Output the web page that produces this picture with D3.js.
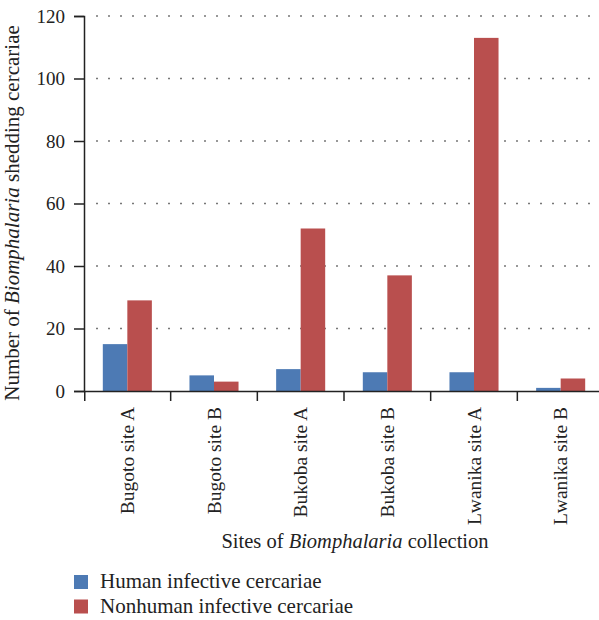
<!DOCTYPE html>
<html>
<head>
<meta charset="utf-8">
<script src="https://cdn.jsdelivr.net/npm/d3@7"></script>
<style>
  body { margin: 0; background: #fff; }
  svg { font-family: "Liberation Serif", "DejaVu Serif", serif; font-kerning: normal; }
</style>
</head>
<body>
<svg id="chart" width="599" height="620"></svg>
<script>
//chart data
var sites = ["Bugoto site A", "Bugoto site B", "Bukoba site A", "Bukoba site B", "Lwanika site A", "Lwanika site B"];
var seriesNames = ["Human infective cercariae", "Nonhuman infective cercariae"];
var human = [15, 5, 7, 6, 6, 1];
var nonhuman = [29, 3, 52, 37, 113, 4];
var yTicks = [0, 20, 40, 60, 80, 100, 120];
var colors = ["#4d7ab4", "#b94f4e"];

var margin = {top: 16, right: -5, bottom: 229, left: 84},
    width = 599 - margin.left - margin.right,
    height = 620 - margin.top - margin.bottom;

var svg = d3.select("#chart");
var chart = svg.append("g")
    .attr("transform", "translate(" + margin.left + "," + margin.top + ")");

var x = d3.scaleBand().domain(sites).range([0, width]).paddingInner(0.434).paddingOuter(0.217);
var x0 = d3.scaleBand().domain(sites).range([0, width]);
var x1 = d3.scaleBand().domain([0, 1]).range([0, x.bandwidth()]);
var y = d3.scaleLinear().domain([0, 120]).range([height, 0]);

//dotted grid
chart.append("g").selectAll("line")
    .data(yTicks.filter(function(d) { return d > 0; }))
  .enter().append("line")
    .attr("x1", 12).attr("x2", width)
    .attr("y1", function(d) { return y(d); })
    .attr("y2", function(d) { return y(d); })
    .attr("stroke", "#777")
    .attr("stroke-width", 1.6)
    .attr("stroke-dasharray", "2,10");

//bars
var rows = sites.map(function(s, i) { return {site: s, vals: [human[i], nonhuman[i]]}; });
var groups = chart.selectAll(".grp").data(rows).enter().append("g")
    .attr("transform", function(d) { return "translate(" + x(d.site) + ",0)"; });
groups.selectAll("rect")
    .data(function(d) { return d.vals; })
  .enter().append("rect")
    .attr("x", function(d, i) { return x1(i); })
    .attr("y", function(d) { return y(d); })
    .attr("width", x1.bandwidth())
    .attr("height", function(d) { return height - y(d); })
    .attr("fill", function(d, i) { return colors[i]; });

//axes
var yAxis = d3.axisLeft(y).tickValues(yTicks).tickSize(10).tickPadding(9);
var gy = chart.append("g").call(yAxis);
gy.select(".domain").attr("stroke", "#222").attr("stroke-width", 1.5);
gy.selectAll(".tick line").attr("stroke", "#222").attr("stroke-width", 1.5);
gy.selectAll("text").attr("font-size", 19).attr("fill", "#222").attr("font-family", "Liberation Serif");

var xAxis = d3.axisBottom(x0).tickSize(10).tickSizeOuter(0).tickFormat("");
var gx = chart.append("g").attr("transform", "translate(0," + height + ")").call(xAxis);
gx.select(".domain").attr("stroke", "#222").attr("stroke-width", 1.5);
gx.selectAll(".tick line").attr("stroke", "#222").attr("stroke-width", 1.5)
    .attr("transform", "translate(" + (-x0.bandwidth() / 2) + ",0)");
gx.selectAll(".tick").filter(function(d, i) { return i == 0; }).select("line")
    .attr("transform", "translate(" + (-x0.bandwidth() / 2 + 0.75) + ",0)");

chart.append("g").selectAll("text")
    .data(sites)
  .enter().append("text")
    .attr("transform", function(d) { return "translate(" + (x0(d) + x0.bandwidth() / 2) + "," + (height + 16) + ") rotate(-90)"; })
    .attr("dy", "0.35em")
    .attr("text-anchor", "end")
    .attr("font-size", 19.5)
    .attr("fill", "#222")
    .text(function(d) { return d; });

//axis titles
var xt = svg.append("text")
    .attr("x", 355).attr("y", 548)
    .attr("text-anchor", "middle")
    .attr("font-size", 20.5)
    .attr("fill", "#222");
xt.append("tspan").text("Sites of ");
xt.append("tspan").attr("font-style", "italic").text("Biomphalaria");
xt.append("tspan").text(" collection");

var yt = svg.append("text")
    .attr("transform", "translate(19,213) rotate(-90)")
    .attr("text-anchor", "middle")
    .attr("font-size", 21)
    .attr("fill", "#222");
yt.append("tspan").text("Number of ");
yt.append("tspan").attr("font-style", "italic").text("Biomphalaria");
yt.append("tspan").text(" shedding cercariae");

//legend
var legend = svg.append("g").selectAll("g")
    .data(seriesNames)
  .enter().append("g")
    .attr("transform", function(d, i) { return "translate(74," + (575 + i * 24.5) + ")"; });
legend.append("rect").attr("width", 14).attr("height", 14)
    .attr("fill", function(d, i) { return colors[i]; });
legend.append("text").attr("x", 26).attr("y", 13)
    .attr("font-size", 21).attr("fill", "#222")
    .text(function(d) { return d; });
</script>
</body>
</html>
